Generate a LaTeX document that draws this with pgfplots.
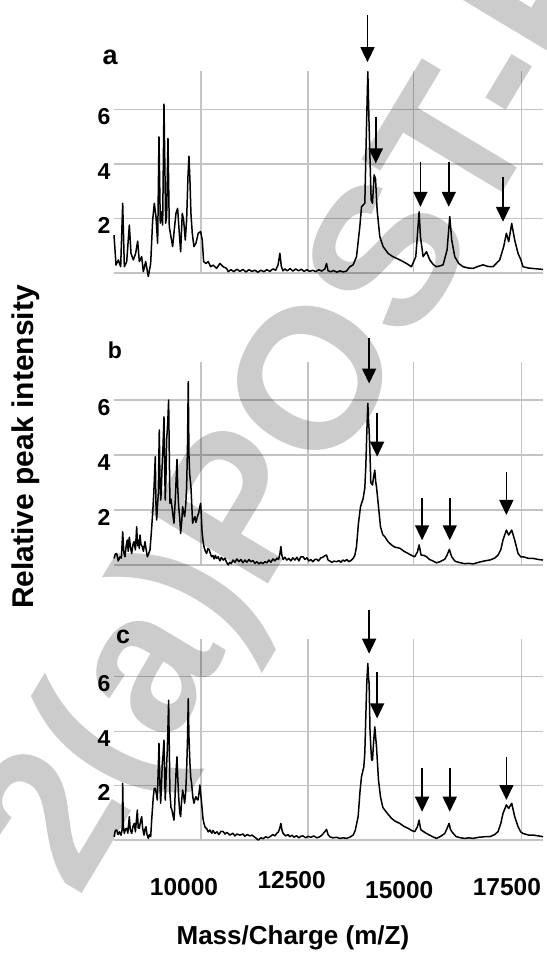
\documentclass[border=0pt]{standalone}
\usepackage{pgfplots}
\pgfplotsset{compat=1.18}
\usepackage{fontspec}
\setmainfont{Liberation Sans}
\usetikzlibrary{arrows.meta}
\definecolor{gridgray}{RGB}{195,195,195}
\definecolor{wm}{RGB}{204,204,204}

\pgfplotsset{
  spec/.style={
    scale only axis, width=429pt, anchor=south west,
    xmin=8375, xmax=18340, ymin=0, ymax=7.4,
    axis line style={draw=none}, major tick length=0pt,
    scaled x ticks=false, scaled y ticks=false,
    xtick={10395,12878,15338,17845}, xticklabels={},
    ytick={0,2,4,6}, yticklabels={,2,4,6},
    grid=major, major grid style={gridgray, line width=1.3pt},
    yticklabel style={font=\bfseries\fontsize{23}{23}\selectfont, anchor=base east, yshift=-15pt},
    clip=false,
  },
  trace/.style={black, line width=1.5pt, no marks, line join=round},
  arr/.style={black, line width=1.6pt, -{Triangle[length=15pt,width=14pt]}, quiver={u=0,v=\thisrow{v}}, no marks},
}

\begin{document}
\begin{tikzpicture}
\useasboundingbox (0,0) rectangle (546pt,-958pt);

% panel a
\begin{axis}[spec, at={(114pt,-273pt)}, height=201.6pt,
  title={a}, title style={at={(axis description cs:-0.009,1.04)}, anchor=center, font=\bfseries\fontsize{27}{27}\selectfont}]
\addplot[trace] coordinates {
(8375,1.39) (8422,0.29) (8476,0.48) (8530,0.23) (8577,2.56) (8615,0.23) (8670,0.42) (8731,1.76)
(8770,0.72) (8824,0.48) (8878,0.72) (8925,1.17) (8963,0.42) (9018,0.60) (9056,0.05) (9111,0.42)
(9172,-0.13) (9227,0.35) (9273,1.94) (9311,2.56) (9350,2.07) (9389,1.09) (9420,5.00) (9450,1.83)
(9482,2.25) (9505,1.76) (9536,6.20) (9575,1.83) (9598,2.07) (9629,4.94) (9659,1.70) (9698,1.33)
(9737,0.97) (9775,1.58) (9814,2.19) (9853,2.37) (9884,1.64) (9923,0.78) (9961,2.19) (9992,1.95)
(10031,1.21) (10062,1.95) (10093,3.54) (10116,4.29) (10139,3.41) (10162,2.19) (10193,1.46) (10232,0.97)
(10278,1.09) (10332,1.46) (10387,1.52) (10425,1.21) (10457,0.42) (10511,0.35) (10564,0.42) (10619,0.23)
(10680,0.29) (10758,0.17) (10835,0.35) (10913,0.23) (10990,0.17) (11029,0.05) (11091,0.12) (11160,0.05)
(11230,0.14) (11300,0.06) (11369,0.13) (11439,0.04) (11509,0.12) (11578,0.06) (11648,0.10) (11717,0.03)
(11787,0.10) (11857,0.05) (11926,0.12) (11996,0.06) (12066,0.15) (12131,0.10) (12186,0.30) (12228,0.72)
(12261,0.25) (12298,0.08) (12344,0.15) (12400,0.08) (12465,0.16) (12530,0.07) (12595,0.15) (12660,0.08)
(12725,0.14) (12790,0.06) (12855,0.12) (12920,0.06) (12994,0.10) (13059,0.05) (13133,0.12) (13198,0.07)
(13273,0.15) (13312,0.35) (13347,0.08) (13412,0.05) (13477,0.09) (13551,0.03) (13625,0.08) (13700,0.04)
(13774,0.07) (13853,0.23) (13930,0.30) (14008,0.60) (14085,1.70) (14124,2.43) (14201,2.56) (14240,5.37)
(14271,7.39) (14301,5.37) (14348,2.68) (14379,2.56) (14417,3.60) (14449,3.47) (14487,2.31) (14549,1.33)
(14626,0.97) (14742,0.72) (14851,0.60) (14936,0.54) (15055,0.45) (15168,0.35) (15284,0.23) (15385,0.60)
(15431,1.58) (15462,2.25) (15493,1.33) (15555,0.60) (15633,0.78) (15710,0.48) (15798,0.30) (15865,0.23)
(15946,0.26) (16019,0.30) (16112,0.85) (16174,2.07) (16220,1.21) (16290,0.60) (16383,0.35) (16483,0.23)
(16615,0.18) (16715,0.17) (16828,0.24) (16947,0.30) (17060,0.24) (17179,0.23) (17334,0.48) (17427,0.97)
(17489,1.46) (17543,1.15) (17613,1.82) (17682,1.21) (17760,0.72) (17822,0.50) (17876,0.23) (18007,0.18)
(18147,0.16) (18340,0.13)
};
\addplot[arr] table[row sep=\\] {
x y v\\
14263 9.47 -1.73\\
14456 5.74 -1.72\\
15493 4.09 -1.66\\
16151 4.09 -1.66\\
17411 3.54 -1.66\\
};
\end{axis}

% panel b
\begin{axis}[spec, at={(114pt,-565pt)}, height=203.5pt,
  title={b}, title style={at={(axis description cs:0.002,1.025)}, anchor=center, font=\bfseries\fontsize{23}{23}\selectfont},
  ylabel={Relative peak intensity},
  ylabel style={at={(axis description cs:-0.205,0.58)}, anchor=center, font=\bfseries\fontsize{30}{30}\selectfont}]
\addplot[trace] coordinates {
(8375,0.24) (8406,0.40) (8437,0.42) (8473,0.15) (8515,0.30) (8547,0.25) (8577,1.21) (8603,0.45)
(8631,0.30) (8658,0.70) (8684,0.91) (8705,0.50) (8731,1.01) (8761,0.60) (8786,0.42) (8816,0.75)
(8840,0.85) (8872,0.55) (8902,1.39) (8923,0.70) (8940,0.91) (8963,0.60) (8979,1.09) (9002,0.75)
(9033,0.67) (9058,0.50) (9095,0.85) (9123,0.55) (9149,0.30) (9178,0.40) (9211,0.55) (9243,1.20)
(9273,1.88) (9299,2.61) (9334,3.94) (9350,2.20) (9366,1.64) (9387,2.20) (9404,2.61) (9427,4.91)
(9443,3.00) (9459,2.36) (9475,2.70) (9489,3.45) (9513,4.30) (9536,5.39) (9552,3.50) (9566,2.36)
(9582,3.20) (9598,4.55) (9624,5.20) (9644,6.00) (9661,3.80) (9675,2.24) (9698,2.40) (9721,2.12)
(9745,1.80) (9768,1.52) (9798,2.36) (9838,3.84) (9856,2.80) (9877,2.12) (9903,1.70) (9923,1.15)
(9949,1.60) (9969,2.12) (9995,1.90) (10016,1.76) (10042,2.20) (10062,2.85) (10081,4.20) (10100,6.67)
(10116,4.00) (10132,3.33) (10162,2.85) (10181,2.20) (10201,1.52) (10227,1.65) (10255,1.76) (10278,1.55)
(10294,1.64) (10320,1.80) (10341,1.88) (10367,2.10) (10387,2.24) (10404,1.80) (10418,1.27) (10441,0.90)
(10464,0.67) (10497,0.50) (10526,0.42) (10557,0.60) (10588,0.55) (10617,0.40) (10642,0.30) (10673,0.35)
(10701,0.22) (10729,0.35) (10758,0.24) (10794,0.30) (10835,0.15) (10868,0.28) (10913,0.18) (10952,0.25)
(10989,0.10) (11029,0.00) (11063,0.10) (11100,0.05) (11137,0.18) (11184,0.10) (11230,0.22) (11277,0.12)
(11323,0.20) (11369,0.08) (11416,0.18) (11462,0.10) (11509,0.20) (11555,0.12) (11602,0.16) (11648,0.06)
(11694,0.12) (11741,0.04) (11787,0.10) (11834,0.05) (11880,0.12) (11926,0.08) (11973,0.18) (12019,0.10)
(12066,0.22) (12112,0.15) (12159,0.25) (12196,0.20) (12228,0.40) (12251,0.67) (12275,0.35) (12305,0.20)
(12344,0.28) (12391,0.18) (12437,0.24) (12483,0.15) (12530,0.26) (12576,0.18) (12623,0.28) (12669,0.15)
(12716,0.30) (12769,0.30) (12808,0.20) (12855,0.26) (12901,0.15) (12948,0.20) (12994,0.12) (13041,0.20)
(13080,0.21) (13124,0.15) (13180,0.26) (13226,0.28) (13273,0.34) (13312,0.36) (13347,0.18) (13393,0.14)
(13440,0.10) (13486,0.14) (13544,0.12) (13598,0.16) (13644,0.10) (13690,0.18) (13737,0.14) (13783,0.20)
(13830,0.12) (13876,0.16) (13930,0.24) (13969,0.35) (14008,0.67) (14052,1.50) (14101,2.12) (14162,2.42)
(14201,2.80) (14224,3.58) (14247,4.80) (14271,5.88) (14289,5.20) (14301,4.91) (14322,4.00) (14340,3.00)
(14379,2.91) (14405,3.20) (14433,3.45) (14456,3.00) (14472,2.85) (14519,2.12) (14565,1.39) (14619,1.10)
(14665,1.03) (14740,0.85) (14820,0.73) (14897,0.65) (15013,0.61) (15111,0.50) (15206,0.42) (15287,0.35)
(15361,0.30) (15424,0.48) (15462,0.73) (15491,0.50) (15508,0.36) (15575,0.35) (15633,0.30) (15705,0.20)
(15779,0.15) (15865,0.08) (15946,0.12) (16058,0.21) (16112,0.36) (16166,0.57) (16197,0.40) (16220,0.30)
(16290,0.15) (16329,0.12) (16429,0.08) (16522,0.05) (16615,0.06) (16715,0.04) (16847,0.10) (16986,0.15)
(17102,0.18) (17218,0.25) (17295,0.36) (17358,0.55) (17411,0.91) (17489,1.27) (17543,1.09) (17613,1.27)
(17682,0.91) (17760,0.42) (17822,0.30) (17876,0.30) (18007,0.24) (18108,0.24) (18240,0.20) (18340,0.18)
};
\addplot[arr] table[row sep=\\] {
x y v\\
14301 8.24 -1.64\\
14487 5.52 -1.58\\
15531 2.42 -1.52\\
16174 2.42 -1.52\\
17489 3.39 -1.57\\
};
\end{axis}

% panel c
\begin{axis}[spec, at={(114pt,-840pt)}, height=201.3pt,
  title={c}, title style={at={(axis description cs:0.021,0.98)}, anchor=center, font=\bfseries\fontsize{25}{25}\selectfont},
  extra x ticks={10000,12500,15000,17500},
  extra x tick labels={10000,\raisebox{7pt}{12500},\raisebox{-3pt}{15000},17500},
  extra x tick style={grid=none, xticklabel style={font=\bfseries\fontsize{24.5}{24.5}\selectfont, anchor=base, yshift=-55pt}},
  xlabel={Mass/Charge (m/Z)},
  xlabel style={at={(axis description cs:0.417,-0.487)}, anchor=center, font=\bfseries\fontsize{26}{26}\selectfont}]
\addplot[trace] coordinates {
(8375,0.12) (8406,0.35) (8437,0.37) (8473,0.20) (8501,0.30) (8538,0.18) (8566,0.40) (8577,2.08)
(8593,0.50) (8615,0.24) (8640,0.40) (8670,0.43) (8696,0.25) (8731,0.86) (8751,0.40) (8786,0.24)
(8816,0.50) (8847,0.61) (8872,0.30) (8917,1.10) (8937,0.45) (8963,0.43) (8993,0.70) (9018,0.86)
(9039,0.45) (9072,0.18) (9095,0.40) (9118,0.49) (9141,0.20) (9172,0.06) (9197,0.20) (9227,0.12)
(9253,0.80) (9288,1.59) (9311,1.90) (9334,1.90) (9359,1.70) (9381,1.47) (9401,2.50) (9420,3.55)
(9438,2.20) (9459,1.35) (9477,2.00) (9497,2.82) (9513,3.10) (9536,3.67) (9550,2.50) (9566,1.47)
(9587,2.40) (9613,3.30) (9629,4.20) (9644,5.14) (9661,3.20) (9675,1.71) (9698,1.20) (9721,1.10)
(9745,0.90) (9768,0.73) (9782,1.10) (9798,1.84) (9819,2.60) (9838,3.06) (9856,2.30) (9877,1.59)
(9903,1.00) (9923,0.86) (9944,1.40) (9969,1.84) (9995,1.60) (10016,1.35) (10042,1.80) (10062,2.57)
(10081,3.60) (10100,5.20) (10116,3.80) (10139,2.82) (10158,2.30) (10178,2.08) (10204,1.60) (10232,1.35)
(10255,1.50) (10278,1.59) (10302,1.50) (10325,1.47) (10348,1.70) (10371,2.02) (10395,1.60) (10418,1.22)
(10441,0.80) (10464,0.61) (10497,0.45) (10526,0.43) (10562,0.30) (10603,0.37) (10645,0.25) (10673,0.35)
(10720,0.24) (10766,0.30) (10812,0.20) (10859,0.32) (10913,0.31) (10952,0.22) (10998,0.28) (11068,0.18)
(11137,0.25) (11184,0.15) (11230,0.22) (11300,0.18) (11369,0.22) (11416,0.14) (11472,0.20) (11532,0.15)
(11583,0.18) (11648,0.10) (11725,0.00) (11787,0.08) (11843,0.05) (11899,0.12) (11954,0.08) (11996,0.12)
(12066,0.20) (12112,0.15) (12151,0.24) (12196,0.30) (12228,0.45) (12251,0.61) (12279,0.35) (12305,0.24)
(12363,0.15) (12418,0.20) (12460,0.12) (12511,0.18) (12558,0.10) (12613,0.16) (12669,0.08) (12716,0.14)
(12769,0.15) (12827,0.08) (12883,0.14) (12948,0.10) (13013,0.15) (13087,0.08) (13157,0.12) (13217,0.20)
(13273,0.31) (13312,0.39) (13347,0.20) (13389,0.12) (13458,0.08) (13544,0.10) (13625,0.06) (13700,0.08)
(13776,0.06) (13848,0.10) (13930,0.18) (13978,0.35) (14046,0.86) (14090,1.80) (14124,2.33) (14178,2.69)
(14201,3.20) (14224,4.53) (14247,5.80) (14271,6.49) (14286,6.00) (14301,5.75) (14322,4.00) (14340,3.43)
(14359,2.94) (14379,2.94) (14405,3.60) (14433,4.16) (14452,3.80) (14472,3.43) (14519,2.20) (14565,1.59)
(14619,1.20) (14665,1.10) (14740,0.95) (14820,0.80) (14897,0.70) (15013,0.61) (15111,0.50) (15206,0.43)
(15287,0.35) (15361,0.31) (15424,0.49) (15462,0.73) (15491,0.45) (15508,0.37) (15575,0.30) (15633,0.24)
(15705,0.18) (15779,0.12) (15865,0.06) (15946,0.12) (16058,0.24) (16112,0.43) (16158,0.61) (16188,0.40)
(16220,0.31) (16290,0.18) (16329,0.12) (16429,0.08) (16522,0.06) (16615,0.08) (16715,0.06) (16847,0.10)
(16986,0.12) (17102,0.12) (17218,0.20) (17295,0.31) (17358,0.60) (17411,0.98) (17489,1.29) (17543,1.16)
(17613,1.35) (17682,0.86) (17760,0.49) (17822,0.30) (17876,0.24) (18007,0.18) (18108,0.18) (18240,0.15)
(18340,0.12)
};
\addplot[arr] table[row sep=\\] {
x y v\\
14301 8.45 -1.60\\
14487 6.18 -1.71\\
15531 2.63 -1.59\\
16174 2.63 -1.59\\
17489 3.06 -1.59\\
};
\end{axis}

% watermark, multiplied over the chart so black stays black
\begin{scope}[blend mode=multiply]
\node[rotate=59, anchor=base west, inner sep=0pt, text=wm,
  font=\bfseries\fontsize{200}{200}\selectfont] at (78pt,-900pt) {2(a)POST-P};
\end{scope}
\end{tikzpicture}
\end{document}
